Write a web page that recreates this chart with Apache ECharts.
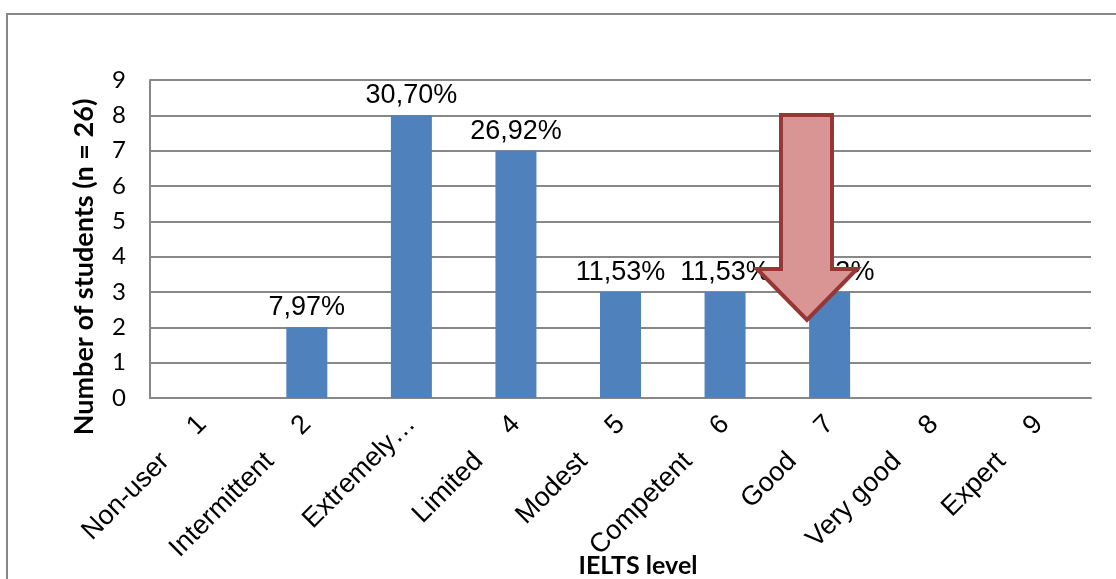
<!DOCTYPE html>
<html>
<head>
<meta charset="utf-8">
<script src="https://cdn.jsdelivr.net/npm/echarts@6/dist/echarts.min.js"></script>
<style>
  html, body { margin: 0; padding: 0; background: #fff; }
  #chart { width: 1116px; height: 579px; }
</style>
</head>
<body>
<div id="chart"></div>
<script>
// IELTS bands on the x axis
var bandNames = ["Non-user", "Intermittent", "Extremely limited", "Limited", "Modest", "Competent", "Good", "Very good", "Expert"];
var bandScores = ["1", "2", "3", "4", "5", "6", "7", "8", "9"];
// number of students per band
var students = [0, 2, 8, 7, 3, 3, 3, 0, 0];
// percentage labels as printed on the bars
var percentLabels = ["", "7,97%", "30,70%", "26,92%", "11,53%", "11,53%", "11,53%", "", ""];

var chart = echarts.init(document.getElementById("chart"));

var gray = "#888888";

var option = {
  animation: false,
  backgroundColor: "#fff",
  grid: { left: 150, top: 80, right: 25, bottom: 181, containLabel: false, outerBoundsMode: "none" },
  xAxis: {
    type: "category",
    data: bandNames,
    name: "IELTS level",
    nameLocation: "middle",
    nameGap: 155,
    nameMoveOverlap: false,
    nameTextStyle: {
      fontFamily: "Lato", fontWeight: "bold", fontSize: 25, color: "#000",
      padding: [0, 0, 0, 35]
    },
    axisLine: { lineStyle: { color: gray, width: 2 } },
    axisTick: { show: false },
    axisLabel: {
      interval: 0,
      rotate: 45,
      margin: 22,
      fontFamily: "Liberation Sans",
      fontSize: 27,
      color: "#000",
      formatter: function (name, i) {
        // long names get cut like in the original: first word + ellipsis
        if (name.length > 12) return name.split(" ")[0] + "\u2026";
        return name + "\u00a0\u00a0\u00a0\u00a0\u00a0" + bandScores[i];
      }
    }
  },
  yAxis: {
    type: "value",
    min: 0,
    max: 9,
    interval: 1,
    name: "Number of students (n = 26)",
    nameLocation: "middle",
    nameGap: 52,
    nameMoveOverlap: false,
    nameTextStyle: {
      fontFamily: "Lato", fontWeight: "bold", fontSize: 27, color: "#000",
      padding: [0, 56, 0, 0]
    },
    axisLine: { show: true, lineStyle: { color: gray, width: 2 } },
    axisTick: { show: false },
    axisLabel: { margin: 24, fontFamily: "Lato", fontSize: 24, color: "#000" },
    splitLine: { lineStyle: { color: gray, width: 2 } }
  },
  series: [
    {
      type: "bar",
      data: students,
      barWidth: 41,
      itemStyle: { color: "#4F81BD" },
      label: {
        show: true,
        position: "top",
        distance: 6,
        fontFamily: "Liberation Sans",
        fontSize: 27,
        color: "#000",
        formatter: function (p) { return percentLabels[p.dataIndex]; }
      }
    }
  ],
  graphic: [
    {
      // outer chart border (runs off the right and bottom edges)
      type: "rect",
      shape: { x: 7, y: 14, width: 1200, height: 700 },
      style: { fill: "none", stroke: gray, lineWidth: 2 },
      silent: true,
      z: -10
    },
    {
      // red down arrow annotation
      type: "polygon",
      shape: {
        points: [[781, 115], [832, 115], [832, 269], [857, 269], [807, 320], [757, 269], [781, 269]]
      },
      style: { fill: "#D99594", stroke: "#953735", lineWidth: 4, lineJoin: "miter" },
      z: 100
    }
  ]
};

chart.setOption(option);
</script>
</body>
</html>
